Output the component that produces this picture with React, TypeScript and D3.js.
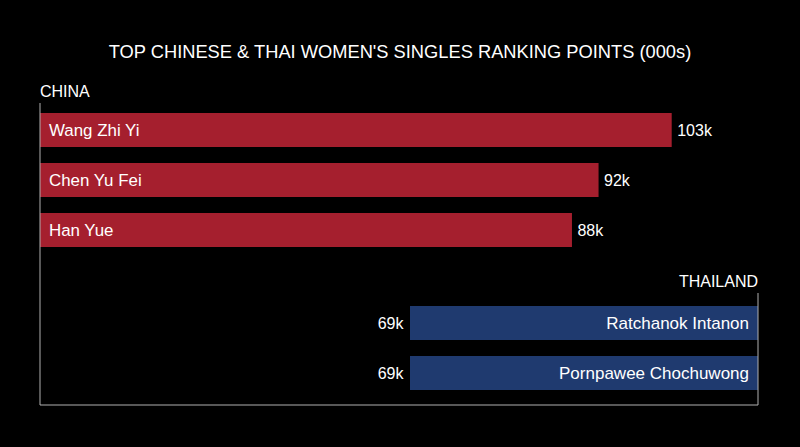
import React from "react";
import * as d3 from "d3";

const chinaNames = ["Wang Zhi Yi", "Chen Yu Fei", "Han Yue"];
const chinaPoints = [103, 92, 88];
const thaiNames = ["Ratchanok Intanon", "Pornpawee Chochuwong"];
const thaiPoints = [69, 69];
const title = "TOP CHINESE & THAI WOMEN'S SINGLES RANKING POINTS (000s)";
const chinaLabel = "CHINA";
const thaiLabel = "THAILAND";

const W = 800;
const H = 447;
const left = 40;
const right = 758;
const bottom = 405;
const RED = "#a51f2e";
const BLUE = "#1f3a6f";
const FONT = "'Liberation Sans', Arial, Helvetica, sans-serif";

export default function App() {
  const chinaX = d3.scaleLinear().domain([8, 103]).range([left, 671.7]);
  const thaiLen = d3.scaleLinear().domain([17, 69]).range([0, 348]);
  const chinaY = d3.scaleBand<string>().domain(chinaNames).range([105, 255]).paddingInner(0.32).paddingOuter(0.16);
  const thaiY = d3.scaleBand<string>().domain(thaiNames).range([298, 398]).paddingInner(0.32).paddingOuter(0.16);
  const bw = chinaY.bandwidth();

  return (
    <svg width={W} height={H} style={{ position: "fixed", top: 0, left: 0, background: "#000" }} fontFamily={FONT}>
      <rect x={0} y={0} width={W} height={H} fill="#000" />
      <text x={W / 2} y={58} textAnchor="middle" fill="#fff" fontSize={18.3}>{title}</text>
      <text x={left} y={96.5} fill="#fff" fontSize={16}>{chinaLabel}</text>
      <text x={right} y={286.5} textAnchor="end" fill="#fff" fontSize={16}>{thaiLabel}</text>
      {chinaNames.map((n, i) => {
        const y = chinaY(n)!;
        return (
          <g key={n}>
            <rect x={left} y={y} width={chinaX(chinaPoints[i]) - left} height={bw} fill={RED} />
            <text x={left + 9} y={y + bw / 2} dy="0.35em" fill="#fff" fontSize={16.9}>{n}</text>
            <text x={chinaX(chinaPoints[i]) + 5.5} y={y + bw / 2} dy="0.35em" fill="#fff" fontSize={16}>{chinaPoints[i]}k</text>
          </g>
        );
      })}
      {thaiNames.map((n, i) => {
        const y = thaiY(n)!;
        const w = thaiLen(thaiPoints[i]);
        return (
          <g key={n}>
            <rect x={right - w} y={y} width={w} height={thaiY.bandwidth()} fill={BLUE} />
            <text x={right - 9} y={y + bw / 2} dy="0.35em" textAnchor="end" fill="#fff" fontSize={17}>{n}</text>
            <text x={right - w - 6.5} y={y + bw / 2} dy="0.35em" textAnchor="end" fill="#fff" fontSize={16}>{thaiPoints[i]}k</text>
          </g>
        );
      })}
      <line x1={left} x2={left} y1={103} y2={bottom} stroke="#b0b0b0" strokeWidth={1} />
      <line x1={left} x2={right} y1={bottom} y2={bottom} stroke="#b0b0b0" strokeWidth={1} />
      <line x1={right} x2={right} y1={293} y2={bottom} stroke="#b0b0b0" strokeWidth={1} />
    </svg>
  );
}
